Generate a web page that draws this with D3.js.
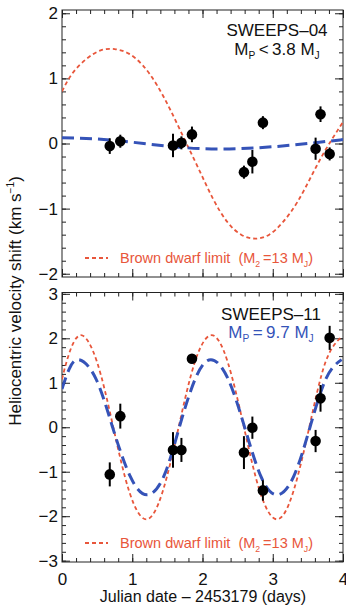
<!DOCTYPE html>
<html>
<head>
<meta charset="utf-8">
<script src="https://cdn.jsdelivr.net/npm/d3@7"></script>
<style>
  body { margin: 0; background: #fff; }
  text { font-family: "Liberation Sans", Arial, sans-serif; }
</style>
</head>
<body>
<svg id="chart" width="346" height="606"></svg>
<script>
// observation epochs (days after JD 2453179), shared by both stars
const obsDays = [0.68, 0.83, 1.58, 1.70, 1.85, 2.59, 2.71, 2.86, 3.61, 3.68, 3.81];

// SWEEPS-04 velocities and errors (km/s)
const rv04 = [-0.04, 0.035, -0.03, 0.01, 0.14, -0.44, -0.28, 0.32, -0.08, 0.45, -0.16];
const err04 = [0.12, 0.10, 0.18, 0.10, 0.12, 0.10, 0.18, 0.10, 0.17, 0.12, 0.10];

// SWEEPS-11 velocities and errors (km/s)
const rv11 = [-1.06, 0.25, -0.51, -0.51, 1.54, -0.57, -0.01, -1.42, -0.31, 0.65, 2.01];
const err11 = [0.27, 0.28, 0.40, 0.27, 0.10, 0.37, 0.25, 0.23, 0.25, 0.30, 0.27];

// curves
const bdDays04 = [0, 0.15, 0.35, 0.55, 0.75, 0.95, 1.15, 1.35, 1.55, 1.75, 1.95, 2.15, 2.35, 2.55, 2.75, 2.95, 3.15, 3.35, 3.55, 3.75, 4.0];
const bdVel04 = [0.80, 1.08, 1.30, 1.43, 1.45, 1.38, 1.20, 0.90, 0.50, 0.05, -0.40, -0.85, -1.20, -1.40, -1.46, -1.40, -1.20, -0.90, -0.50, -0.10, 0.33];
const fitDays04 = [0, 0.5, 1.0, 1.5, 2.0, 2.5, 3.0, 3.5, 4.0];
const fitVel04 = [0.09, 0.07, 0.02, -0.04, -0.08, -0.08, -0.05, 0.00, 0.06];

const bdDays11 = [0, 0.1, 0.27, 0.5, 0.73, 0.96, 1.2, 1.43, 1.66, 1.89, 2.13, 2.36, 2.59, 2.82, 3.06, 3.29, 3.52, 3.75, 3.99];
const bdVel11 = [1.08, 1.65, 2.07, 1.46, 0, -1.46, -2.07, -1.46, 0, 1.46, 2.07, 1.46, 0, -1.46, -2.07, -1.46, 0, 1.46, 2.05];
const fitDays11 = [0, 0.1, 0.24, 0.48, 0.72, 0.97, 1.21, 1.45, 1.67, 1.9, 2.12, 2.36, 2.6, 2.83, 3.06, 3.3, 3.53, 3.76, 3.98];
const fitVel11 = [0.86, 1.3, 1.52, 1.1, 0, -1.1, -1.52, -1.1, 0, 1.1, 1.52, 1.1, 0, -1.1, -1.52, -1.1, 0, 1.1, 1.52];

const xTicks = [0, 1, 2, 3, 4];
const yTicks04 = [-2, -1, 0, 1, 2];
const yTicks11 = [-3, -2, -1, 0, 1, 2, 3];

const svg = d3.select("#chart");
const left = 62, right = 343;
const red = "#e8563b", blue = "#3553b8";

const x = d3.scaleLinear().domain([0, 4]).range([left, right]);

// write a run of [text, isSubscript] pieces into a text element
function rich(sel, parts) {
    let shifted = false;
    parts.forEach(([txt, isSub]) => {
        const t = sel.append("tspan").text(txt);
        if (isSub && !shifted) { t.attr("dy", 4); shifted = true; }
        else if (!isSub && shifted) { t.attr("dy", -4); shifted = false; }
        if (isSub) t.attr("font-size", "0.6em");
    });
}

function panel(opt) {
    const y = d3.scaleLinear().domain(opt.domain).range([opt.bottom, opt.top]);
    const g = svg.append("g");
    const id = "clip" + opt.name;
    g.append("clipPath").attr("id", id)
        .append("rect").attr("x", left).attr("y", opt.top)
        .attr("width", right - left).attr("height", opt.bottom - opt.top);

    // minor ticks
    const minor = (axis, sc, n) => axis(sc).tickValues(sc.ticks(n)).tickSize(-4).tickFormat("");
    g.append("g").attr("transform", `translate(0,${opt.bottom})`).call(minor(d3.axisBottom, x, 20));
    g.append("g").attr("transform", `translate(0,${opt.top})`).call(minor(d3.axisTop, x, 20));
    g.append("g").attr("transform", `translate(${left},0)`).call(minor(d3.axisLeft, y, opt.minorN));
    g.append("g").attr("transform", `translate(${right},0)`).call(minor(d3.axisRight, y, opt.minorN));

    // major ticks
    g.append("g").attr("transform", `translate(${left},0)`)
        .call(d3.axisLeft(y).tickValues(opt.yTicks).tickSize(-8).tickPadding(4).tickFormat(d3.format("d")));
    g.append("g").attr("transform", `translate(${right},0)`)
        .call(d3.axisRight(y).tickValues(opt.yTicks).tickSize(-8).tickFormat(""));
    g.append("g").attr("transform", `translate(0,${opt.top})`)
        .call(d3.axisTop(x).tickValues(xTicks).tickSize(-8).tickFormat(""));
    const xa = g.append("g").attr("transform", `translate(0,${opt.bottom})`)
        .call(d3.axisBottom(x).tickValues(xTicks).tickSize(-8).tickPadding(6)
            .tickFormat(opt.xLabels ? d3.format("d") : ""));

    g.selectAll(".domain").remove();
    g.selectAll(".tick line").attr("stroke", "#222");
    g.selectAll(".tick text").attr("font-size", 17).attr("fill", "#111")
        .style("font-family", '"Liberation Sans", Arial, sans-serif');
    xa.selectAll(".tick text").attr("dy", "1em");

    g.append("rect").attr("x", left).attr("y", opt.top)
        .attr("width", right - left).attr("height", opt.bottom - opt.top)
        .attr("fill", "none").attr("stroke", "#222").attr("stroke-width", 1);

    const line = d3.line().x(d => x(d[0])).y(d => y(d[1])).curve(d3.curveNatural);
    const curves = g.append("g").attr("clip-path", `url(#${id})`);
    curves.append("path").datum(d3.zip(opt.bdDays, opt.bdVel))
        .attr("d", line).attr("fill", "none").attr("stroke", red)
        .attr("stroke-width", 1.8).attr("stroke-dasharray", "4 3");
    curves.append("path").datum(d3.zip(opt.fitDays, opt.fitVel))
        .attr("d", line).attr("fill", "none").attr("stroke", blue)
        .attr("stroke-width", 3).attr("stroke-dasharray", "12 6");

    // data points
    const pts = d3.zip(obsDays, opt.rv, opt.err);
    g.selectAll("line.err").data(pts).enter().append("line").attr("class", "err")
        .attr("x1", d => x(d[0])).attr("x2", d => x(d[0]))
        .attr("y1", d => y(d[1] - d[2])).attr("y2", d => y(d[1] + d[2]))
        .attr("stroke", "#000").attr("stroke-width", 2);
    g.selectAll("circle.pt").data(pts).enter().append("circle").attr("class", "pt")
        .attr("cx", d => x(d[0])).attr("cy", d => y(d[1])).attr("r", 5.3).attr("fill", "#000");

    // titles
    g.append("text").attr("x", opt.labelX).attr("y", opt.top + opt.titleDy)
        .attr("text-anchor", "middle").attr("font-size", 17).attr("fill", "#111")
        .text(opt.title);
    const m = g.append("text").attr("x", opt.labelX).attr("y", opt.top + opt.titleDy + opt.lineGap)
        .attr("text-anchor", "middle").attr("font-size", 17).attr("fill", opt.massColor);
    rich(m, [["M", false], ["P", true], [opt.massText + " M", false], ["J", true]]);

    // legend
    const ly = opt.bottom - 19;
    g.append("line").attr("x1", 85).attr("x2", 108).attr("y1", ly).attr("y2", ly)
        .attr("stroke", red).attr("stroke-width", 1.8).attr("stroke-dasharray", "4 3");
    const lt = g.append("text").attr("x", 120).attr("y", ly + 5).attr("font-size", 14.5).attr("fill", red);
    rich(lt, [["Brown dwarf limit\u00a0\u00a0(M", false], ["2", true], ["\u2009=13 M", false], ["J", true], [")", false]]);
}

panel({
    name: "a", top: 10, bottom: 277, domain: [-2.05, 2.05], yTicks: yTicks04, minorN: 20,
    rv: rv04, err: err04, bdDays: bdDays04, bdVel: bdVel04, fitDays: fitDays04, fitVel: fitVel04,
    title: "SWEEPS\u201304", massText: "\u2009<\u20093.8", massColor: "#111", labelX: 277, titleDy: 26, lineGap: 18.5,
    xLabels: false
});
panel({
    name: "b", top: 292.5, bottom: 562, domain: [-3.03, 3.03], yTicks: yTicks11, minorN: 30,
    rv: rv11, err: err11, bdDays: bdDays11, bdVel: bdVel11, fitDays: fitDays11, fitVel: fitVel11,
    title: "SWEEPS\u201311", massText: "\u2009=\u20099.7", massColor: blue, labelX: 271, titleDy: 27, lineGap: 18.5,
    xLabels: true
});

svg.append("text").attr("x", 203).attr("y", 602).attr("text-anchor", "middle")
    .attr("font-size", 16).attr("fill", "#111").text("Julian date \u2013 2453179 (days)");

const yl = svg.append("text").attr("transform", "translate(21,301) rotate(-90)")
    .attr("text-anchor", "middle").attr("font-size", 17).attr("fill", "#111");
yl.append("tspan").text("Heliocentric velocity shift (km s");
yl.append("tspan").attr("font-size", "0.6em").attr("dy", -7).text("\u22121");
yl.append("tspan").attr("dy", 7).text(")");
</script>
</body>
</html>
